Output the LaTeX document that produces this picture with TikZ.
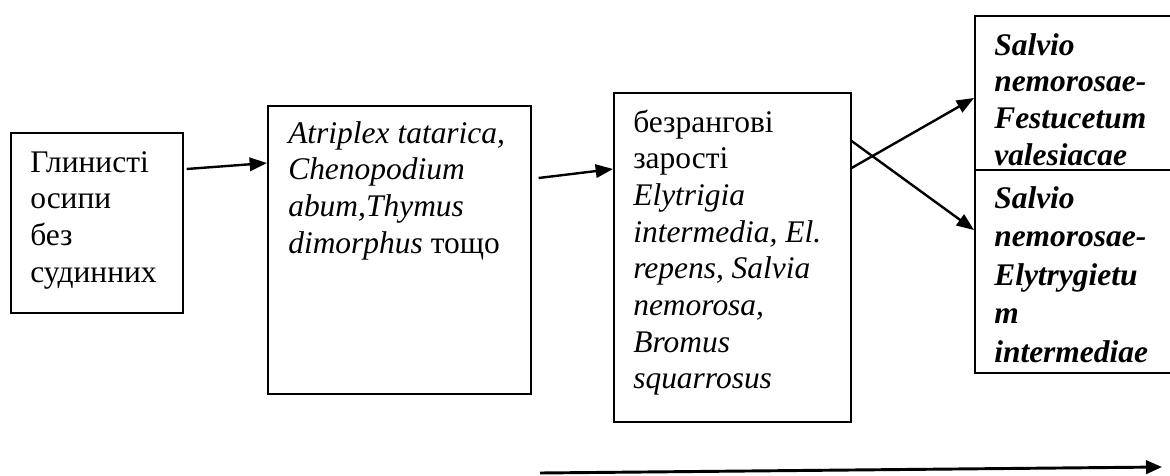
\documentclass[tikz,border=0pt]{standalone}
\usepackage{fontspec}
\setmainfont{Liberation Serif}
\usetikzlibrary{arrows.meta,calc}
\tikzset{
  frame/.style={draw, line width=1.2pt, rectangle, inner sep=0pt, anchor=north west},
  link/.style={line width=1.8pt, -{Triangle[length=13pt,width=10pt]}},
  txt/.style={anchor=base west, inner sep=0pt, font=\fontsize{23.6pt}{27.5pt}\selectfont},
  wide/.style={txt, font=\fontsize{23.6pt}{28.9pt}\selectfont},
}
\newcommand{\lines}[1]{\parbox[t]{300pt}{\raggedright #1}}
\begin{document}
\begin{tikzpicture}[x=0.75pt, y=-0.75pt]
\useasboundingbox (0,0) rectangle (1170,475);
\clip (0,0) rectangle (1170,475);

% boxes
\node[frame, minimum width=129pt,    minimum height=135pt]    (b1) at (10,132) {};
\node[frame, minimum width=197.25pt, minimum height=216pt]    (b2) at (267,105) {};
\node[frame, minimum width=177.75pt, minimum height=246.75pt] (b3) at (613,92) {};
\node[frame, minimum width=158.25pt, minimum height=115.5pt]  (b4) at (974,15) {};
\node[frame, minimum width=158.25pt, minimum height=152.25pt] (b5) at (974,169) {};

% box texts
\node[txt] (t1) at (30,172) {\lines{Глинисті\\осипи\\без\\судинних}};
\node[txt] (t2) at (288,143) {\lines{\textit{Atriplex tatarica,}\\\textit{Chenopodium}\\\textit{abum,Thymus}\\\textit{dimorphus} тощо}};
\node[txt] (t3) at (633,132) {\lines{безрангові\\зарості\\\textit{Elytrigia}\\\textit{intermedia, El.}\\\textit{repens, Salvia}\\\textit{nemorosa,}\\\textit{Bromus}\\\textit{squarrosus}}};
\node[txt] (t4) at (994,55) {\lines{\bfseries\itshape Salvio\\nemorosae-\\Festucetum\\valesiacae}};
\node[wide] (t5) at (994,208) {\lines{\bfseries\itshape Salvio\\nemorosae-\\Elytrygietu\\m\\intermediae}};

% connectors
\draw[link] ([shift={(3,37)}]b1.north east) -- ([shift={(0,58)}]b2.north west);
\draw[link] ([shift={(7,73)}]b2.north east) -- ([shift={(0,77)}]b3.north west);
\draw[link] ([shift={(0,76)}]b3.north east) -- ([shift={(0,83)}]b4.north west);
\draw[link] ([shift={(0,49)}]b3.north east) -- ([shift={(0,61)}]b5.north west);

% time axis
\coordinate (axisL) at (540,473);
\coordinate (axisR) at (1162,467);
\draw[line width=2.2pt, -{Triangle[length=12pt,width=10pt]}] (axisL) -- (axisR);
\end{tikzpicture}
\end{document}
